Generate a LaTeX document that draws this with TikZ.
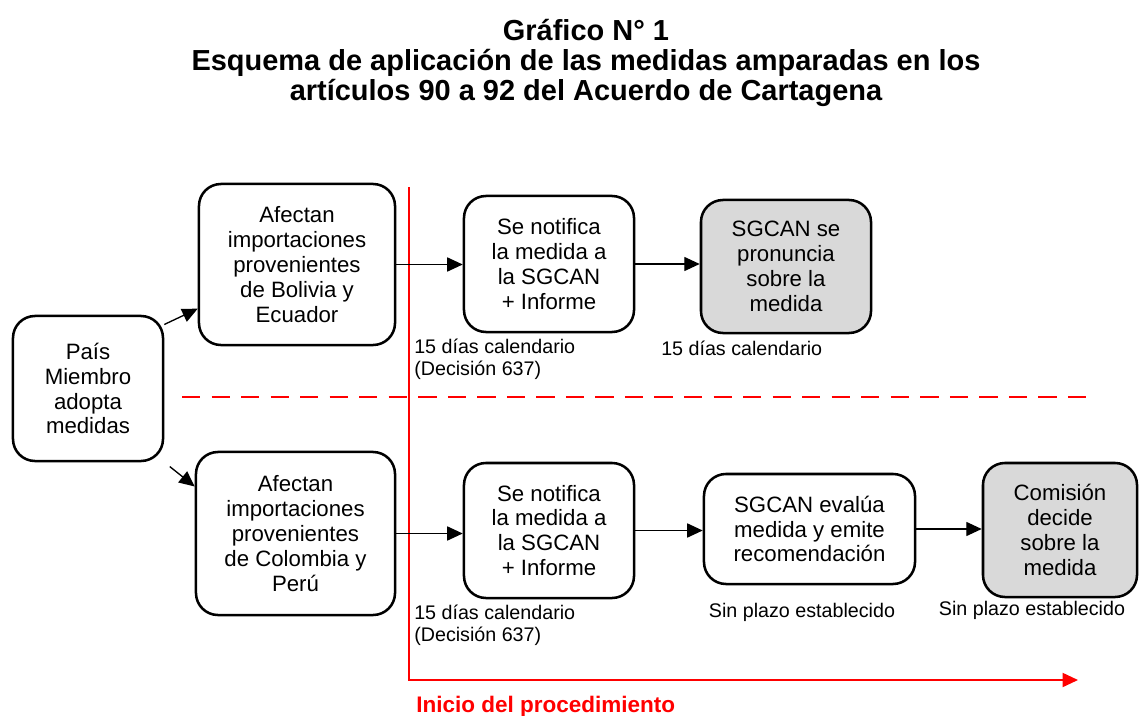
\documentclass[tikz,border=0pt]{standalone}
\usepackage{fontspec}
\setmainfont{Liberation Sans}
\usetikzlibrary{arrows.meta, positioning}

\definecolor{boxgray}{RGB}{217,217,217}
\definecolor{linered}{RGB}{255,0,0}

\begin{document}
\begin{tikzpicture}[x=0.025cm,y=-0.025cm,
	box/.style={draw, line width=1.8pt, rounded corners=0.55cm, align=center,
		font=\fontsize{15.8}{17.7}\selectfont, inner sep=0pt},
	grey/.style={box, fill=boxgray},
	note/.style={font=\fontsize{14}{15.6}\selectfont, align=left, inner sep=0pt},
	arr/.style={-{Triangle[length=11pt,width=10pt]}, line width=0.95pt},
	]
	\useasboundingbox (0,0) rectangle (1139,716);

	% title
	\node[font=\bfseries\fontsize{20.6}{21.3}\selectfont, align=center] (title) at (586,63)
		{Gráfico N° 1\\Esquema de aplicación de las medidas amparadas en los\\artículos 90 a 92 del Acuerdo de Cartagena};

	% boxes
	\node[box, minimum width=3.75cm, minimum height=3.625cm] (pais) at (88,388.5) {País\\Miembro\\adopta\\medidas};
	\node[box, minimum width=4.9cm, minimum height=4.025cm] (bol) at (297,264.5) {Afectan\\importaciones\\provenientes\\de Bolivia y\\Ecuador};
	\node[box, minimum width=4.975cm, minimum height=4.075cm] (col) at (295.5,533.5) {Afectan\\importaciones\\provenientes\\de Colombia y\\Perú};
	\node[box, minimum width=4.25cm, minimum height=3.4cm] (notA) at (549,264) {Se notifica\\la medida a\\la SGCAN\\+ Informe};
	\node[grey, minimum width=4.25cm, minimum height=3.325cm] (pron) at (786,266.5) {SGCAN se\\pronuncia\\sobre la\\medida};
	\node[box, minimum width=4.25cm, minimum height=3.375cm] (notB) at (549,530.5) {Se notifica\\la medida a\\la SGCAN\\+ Informe};
	\node[box, minimum width=5.275cm, minimum height=2.75cm] (eval) at (809.5,529) {SGCAN evalúa\\medida y emite\\recomendación};
	\node[grey, minimum width=3.85cm, minimum height=3.35cm] (com) at (1060,530) {Comisión\\decide\\sobre la\\medida};

	% time notes
	\node[note, anchor=west] (tA) at (414,359) {15 días calendario\\(Decisión 637)};
	\node[note, anchor=west] (tB) at (661,348) {15 días calendario};
	\node[note, anchor=west] (tC) at (414,625) {15 días calendario\\(Decisión 637)};
	\node[note] (tD) at (802,612) {Sin plazo establecido};
	\node[note] (tE) at (1032,610) {Sin plazo establecido};

	% red lines
	\coordinate (top) at (409,187);
	\coordinate (corner) at (409,680);
	\coordinate (tip) at (1078,680);
	\coordinate (dashL) at (182,397);
	\coordinate (dashR) at (1090,397);
	\draw[linered, line width=1.4pt, dash pattern=on 13pt off 8pt] (dashL) -- (dashR);
	\draw[linered, line width=1.4pt, -{Triangle[length=11pt,width=10pt]}] (top) -- (corner) -- (tip);
	\node[text=linered, font=\bfseries\fontsize{16}{18}\selectfont, anchor=west, inner sep=0pt] (inicio) at (416,707) {Inicio del procedimiento};

	% connectors
	\draw[arr] (pais.40) -- (bol.204);
	\draw[arr, shorten <=5pt] (pais.-44) -- (col.155);
	\draw[arr] (bol.east) -- (bol.east -| notA.west);
	\draw[arr] (notA.east) -- (notA.east -| pron.west);
	\draw[arr] (col.east) -- (col.east -| notB.west);
	\draw[arr] (notB.east) -- (notB.east -| eval.west);
	\draw[arr] (eval.east) -- (eval.east -| com.west);
\end{tikzpicture}
\end{document}
